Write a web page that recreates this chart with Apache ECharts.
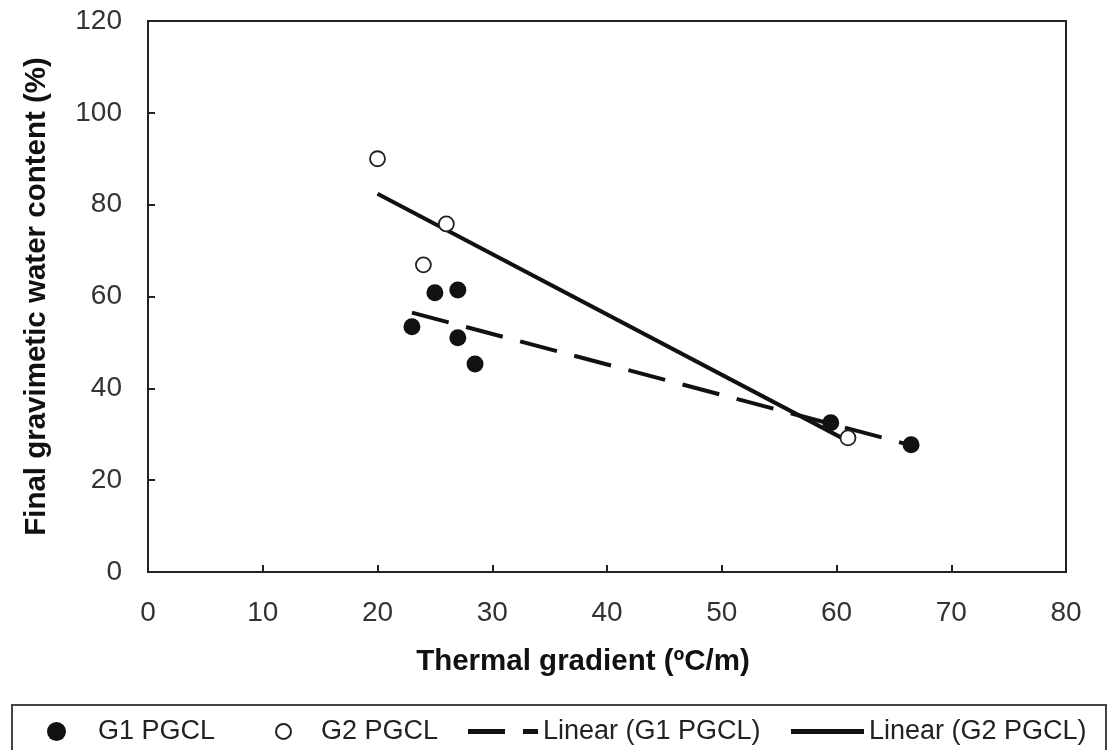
<!DOCTYPE html>
<html><head><meta charset="utf-8">
<script src="https://cdn.jsdelivr.net/npm/echarts@6/dist/echarts.min.js"></script>
<style>html,body{margin:0;padding:0;background:#fff}#c{width:1109px;height:750px}</style>
</head><body><div id="c"></div>
<script>
// Data
const g1X = [25, 27, 23, 27, 28.5, 59.5, 66.5];
const g1Y = [60.8, 61.4, 53.4, 51.0, 45.3, 32.5, 27.7];
const g2X = [20, 26, 24, 61];
const g2Y = [90.0, 75.8, 66.9, 29.2];
const g1TrendX = [23, 66.5];
const g1TrendY = [56.5, 27.6];
const g2TrendX = [20, 61];
const g2TrendY = [82.4, 28.5];
const xTicks = [0, 10, 20, 30, 40, 50, 60, 70, 80];
const yTicks = [0, 20, 40, 60, 80, 100, 120];
const seriesNames = ['G1 PGCL', 'G2 PGCL', 'Linear (G1 PGCL)', 'Linear (G2 PGCL)'];

const zip = (xs, ys) => xs.map((x, i) => [x, ys[i]]);
const chart = echarts.init(document.getElementById('c'), null, {renderer: 'canvas'});
const tickFont = {fontFamily: 'Liberation Sans', fontSize: 28, color: '#333'};
const legendText = {fontFamily: 'Liberation Sans', fontSize: 27, color: '#222'};
const titleFont = {fontFamily: 'Liberation Sans', fontWeight: 'bold', fontSize: 29.5, color: '#111'};

function mkLegend(name, left, icon, w, h, textPad) {
  return {
    data: [name], left: left, top: 718, orient: 'horizontal', padding: 0,
    itemWidth: w, itemHeight: h, icon: icon,
    textStyle: Object.assign({padding: [0, 0, 0, textPad]}, legendText),
    selectedMode: false
  };
}

chart.setOption({
  animation: false,
  backgroundColor: '#fff',
  grid: {left: 148, right: 43, top: 21, bottom: 178, show: true, borderColor: '#222', borderWidth: 2},
  xAxis: {
    type: 'value', min: xTicks[0], max: xTicks[xTicks.length - 1], interval: 10,
    axisLine: {show: true, lineStyle: {color: '#222', width: 2}},
    axisTick: {show: true, inside: true, length: 7, lineStyle: {color: '#222', width: 2}},
    axisLabel: Object.assign({margin: 27}, tickFont),
    splitLine: {show: false},
    name: 'Thermal gradient (ºC/m)', nameLocation: 'middle', nameGap: 75,
    nameTextStyle: Object.assign({padding: [0, 48, 0, 0]}, titleFont)
  },
  yAxis: {
    type: 'value', min: yTicks[0], max: yTicks[yTicks.length - 1], interval: 20,
    axisLine: {show: true, lineStyle: {color: '#222', width: 2}},
    axisTick: {show: true, inside: true, length: 7, lineStyle: {color: '#222', width: 2}},
    axisLabel: Object.assign({margin: 26}, tickFont),
    splitLine: {show: false},
    name: 'Final gravimetic water content (%)', nameLocation: 'middle', nameGap: 96,
    nameTextStyle: titleFont
  },
  legend: [
    mkLegend(seriesNames[0], 47, 'circle', 19, 19, 27),
    mkLegend(seriesNames[1], 275, 'circle', 15, 15, 25),
    mkLegend(seriesNames[2], 468, 'path://M0,0H37V5H0ZM55,0H70V5H55Z', 70, 5, 0),
    mkLegend(seriesNames[3], 791, 'path://M0,0H73V5H0Z', 73, 5, 0)
  ],
  graphic: [{
    type: 'rect', shape: {x: 12, y: 705, width: 1094, height: 60},
    style: {fill: 'none', stroke: '#444', lineWidth: 2}, silent: true, z: -1
  }],
  series: [
    {
      name: seriesNames[2], type: 'line', data: zip(g1TrendX, g1TrendY),
      showSymbol: false, symbol: 'none',
      lineStyle: {color: '#111', width: 4, type: [38, 18]}, itemStyle: {color: '#111'}, z: 2
    },
    {
      name: seriesNames[3], type: 'line', data: zip(g2TrendX, g2TrendY),
      showSymbol: false, symbol: 'none',
      lineStyle: {color: '#111', width: 4, type: 'solid'}, itemStyle: {color: '#111'}, z: 2
    },
    {
      name: seriesNames[0], type: 'scatter', data: zip(g1X, g1Y), symbol: 'circle', symbolSize: 17,
      itemStyle: {color: '#111', borderColor: '#111', borderWidth: 0, opacity: 1}, z: 3
    },
    {
      name: seriesNames[1], type: 'scatter', data: zip(g2X, g2Y), symbol: 'circle', symbolSize: 15,
      itemStyle: {color: '#fff', borderColor: '#222', borderWidth: 1.8, opacity: 1}, z: 4
    }
  ]
});
</script></body></html>
